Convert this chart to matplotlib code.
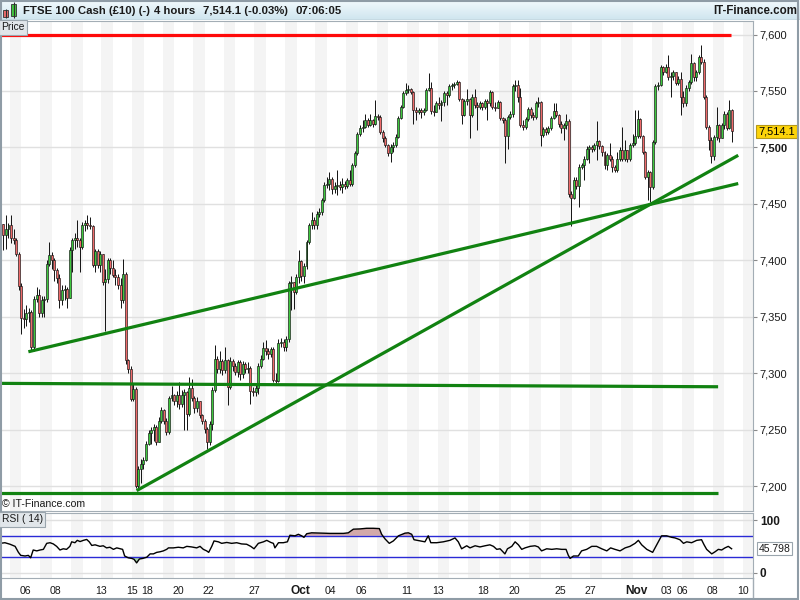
import numpy as np
import pandas as pd
import matplotlib
matplotlib.use("Agg")
import matplotlib.pyplot as plt
import matplotlib.transforms as mtrans
from matplotlib.patches import Rectangle
from matplotlib.colors import LinearSegmentedColormap

plt.rcParams['font.family'] = ['Liberation Sans', 'DejaVu Sans']

# ---------------- data ----------------
title_parts = ["FTSE 100 Cash (£10) (-)", "4 hours", "7,514.1 (-0.03%)", "07:06:05"]
brand = "IT-Finance.com"
first_open = 7432
first_day = "2017-09-04"      # first bar is the 12:00 bar (slot 3) of this day
last_day = "2017-11-10"
first_slot = 3
bars_per_day = 6

closes = [
    7422, 7428, 7431, 7420, 7418, 7406, 7377, 7349, 7348, 7353,
    7354, 7323, 7366, 7369, 7353, 7365, 7366, 7397, 7405, 7400,
    7391, 7384, 7365, 7374, 7375, 7367, 7409, 7418, 7420, 7418,
    7412, 7431, 7433, 7431, 7430, 7396, 7408, 7396, 7406, 7381,
    7383, 7400, 7393, 7387, 7385, 7378, 7365, 7388, 7312, 7304,
    7277, 7286, 7200, 7215, 7220, 7223, 7237, 7247, 7250, 7252,
    7239, 7258, 7267, 7258, 7248, 7278, 7281, 7275, 7281, 7273,
    7281, 7283, 7264, 7287, 7278, 7269, 7275, 7263, 7258, 7251,
    7239, 7255, 7285, 7313, 7304, 7311, 7303, 7312, 7288, 7311,
    7306, 7301, 7310, 7299, 7308, 7304, 7305, 7284, 7283, 7287,
    7306, 7313, 7322, 7320, 7317, 7321, 7294, 7293, 7327, 7328,
    7323, 7330, 7380, 7381, 7372, 7385, 7399, 7386, 7395, 7416,
    7431, 7436, 7431, 7441, 7443, 7453, 7467, 7468, 7472, 7463,
    7466, 7467, 7465, 7468, 7466, 7471, 7468, 7484, 7495, 7512,
    7517, 7518, 7524, 7520, 7524, 7521, 7528, 7527, 7514, 7508,
    7502, 7495, 7500, 7502, 7509, 7526, 7536, 7548, 7551, 7552,
    7549, 7533, 7531, 7533, 7531, 7533, 7551, 7553, 7532, 7531,
    7539, 7538, 7540, 7548, 7546, 7554, 7555, 7556, 7558, 7543,
    7529, 7541, 7543, 7529, 7545, 7538, 7536, 7539, 7536, 7541,
    7539, 7549, 7536, 7535, 7540, 7526, 7524, 7510, 7527, 7530,
    7554, 7555, 7545, 7520, 7518, 7525, 7534, 7529, 7527, 7539,
    7540, 7511, 7516, 7514, 7517, 7526, 7532, 7529, 7521, 7517,
    7520, 7523, 7459, 7455, 7471, 7466, 7483, 7484, 7490, 7499,
    7500, 7499, 7502, 7506, 7501, 7496, 7484, 7493, 7490, 7483,
    7480, 7490, 7498, 7490, 7498, 7490, 7502, 7504, 7510, 7525,
    7510, 7496, 7474, 7478, 7465, 7505, 7554, 7555, 7571, 7567,
    7571, 7562, 7563, 7567, 7557, 7561, 7545, 7539, 7553, 7558,
    7575, 7562, 7567, 7580, 7576, 7545, 7518, 7507, 7492, 7509,
    7520, 7508, 7520, 7530, 7517, 7533, 7514.1,
]

highs = [
    7432, 7440, 7433, 7440, 7428, 7420, 7407, 7380, 7357, 7360,
    7358, 7356, 7368, 7376, 7375, 7368, 7368, 7400, 7416, 7407,
    7402, 7393, 7388, 7378, 7378, 7376, 7412, 7420, 7424, 7436,
    7420, 7434, 7436, 7440, 7438, 7431, 7410, 7410, 7408, 7406,
    7392, 7402, 7402, 7400, 7392, 7388, 7384, 7401, 7390, 7313,
    7306, 7290, 7288, 7218, 7224, 7226, 7240, 7250, 7252, 7255,
    7254, 7261, 7270, 7268, 7260, 7280, 7289, 7282, 7284, 7292,
    7285, 7286, 7284, 7297, 7295, 7280, 7279, 7275, 7264, 7259,
    7252, 7258, 7288, 7325, 7315, 7320, 7313, 7323, 7313, 7314,
    7313, 7309, 7312, 7312, 7311, 7310, 7310, 7306, 7288, 7290,
    7309, 7316, 7328, 7329, 7322, 7323, 7323, 7300, 7330, 7331,
    7330, 7333, 7382, 7386, 7381, 7388, 7409, 7400, 7398, 7418,
    7433, 7443, 7438, 7444, 7446, 7455, 7469, 7474, 7478, 7474,
    7469, 7480, 7470, 7473, 7470, 7473, 7480, 7486, 7497, 7514,
    7520, 7524, 7530, 7526, 7530, 7525, 7542, 7530, 7529, 7515,
    7510, 7503, 7503, 7505, 7512, 7528, 7538, 7550, 7557, 7555,
    7553, 7550, 7536, 7535, 7535, 7535, 7553, 7566, 7558, 7538,
    7541, 7545, 7542, 7550, 7550, 7556, 7557, 7558, 7560, 7559,
    7544, 7543, 7552, 7544, 7547, 7552, 7540, 7541, 7540, 7543,
    7543, 7551, 7550, 7540, 7542, 7541, 7527, 7526, 7529, 7532,
    7556, 7560, 7560, 7553, 7524, 7527, 7536, 7536, 7531, 7541,
    7545, 7541, 7518, 7518, 7519, 7528, 7539, 7539, 7530, 7523,
    7522, 7530, 7525, 7461, 7474, 7474, 7485, 7486, 7492, 7501,
    7502, 7502, 7504, 7523, 7507, 7502, 7497, 7495, 7504, 7492,
    7484, 7496, 7500, 7518, 7507, 7497, 7504, 7512, 7533, 7533,
    7526, 7511, 7497, 7480, 7479, 7507, 7556, 7558, 7573, 7572,
    7574, 7582, 7567, 7569, 7567, 7563, 7567, 7550, 7555, 7560,
    7583, 7576, 7569, 7582, 7591, 7578, 7546, 7520, 7509, 7511,
    7536, 7521, 7522, 7532, 7531, 7542, 7534,
]

lows = [
    7409, 7410, 7420, 7415, 7414, 7404, 7374, 7335, 7340, 7342,
    7345, 7320, 7320, 7363, 7350, 7350, 7350, 7363, 7395, 7392,
    7382, 7380, 7358, 7360, 7365, 7358, 7388, 7390, 7410, 7412,
    7390, 7410, 7426, 7428, 7428, 7394, 7390, 7393, 7390, 7378,
    7337, 7380, 7388, 7385, 7378, 7375, 7358, 7362, 7308, 7300,
    7275, 7275, 7198, 7197, 7203, 7215, 7222, 7236, 7237, 7240,
    7236, 7239, 7256, 7255, 7245, 7246, 7275, 7272, 7270, 7268,
    7270, 7250, 7250, 7262, 7275, 7265, 7266, 7260, 7255, 7247,
    7233, 7236, 7250, 7283, 7300, 7300, 7298, 7300, 7272, 7286,
    7302, 7298, 7297, 7294, 7296, 7300, 7300, 7273, 7280, 7280,
    7282, 7305, 7312, 7316, 7313, 7314, 7292, 7290, 7292, 7323,
    7320, 7320, 7328, 7356, 7357, 7370, 7380, 7382, 7380, 7392,
    7414, 7428, 7428, 7428, 7438, 7440, 7452, 7464, 7462, 7459,
    7460, 7458, 7462, 7460, 7463, 7464, 7466, 7466, 7483, 7493,
    7510, 7514, 7517, 7518, 7519, 7518, 7520, 7524, 7512, 7505,
    7500, 7492, 7487, 7496, 7500, 7508, 7525, 7535, 7546, 7548,
    7547, 7521, 7524, 7530, 7526, 7529, 7532, 7550, 7530, 7528,
    7532, 7534, 7523, 7537, 7538, 7545, 7551, 7553, 7555, 7541,
    7521, 7528, 7538, 7508, 7527, 7535, 7515, 7534, 7533, 7534,
    7524, 7537, 7534, 7532, 7535, 7524, 7522, 7486, 7499, 7525,
    7527, 7550, 7540, 7518, 7515, 7516, 7523, 7526, 7524, 7525,
    7536, 7501, 7509, 7511, 7512, 7515, 7525, 7527, 7518, 7513,
    7507, 7516, 7456, 7430, 7454, 7463, 7447, 7481, 7471, 7489,
    7486, 7496, 7497, 7489, 7499, 7492, 7481, 7480, 7488, 7478,
    7478, 7478, 7488, 7488, 7488, 7487, 7488, 7500, 7502, 7508,
    7508, 7494, 7472, 7453, 7452, 7463, 7503, 7551, 7554, 7564,
    7566, 7560, 7545, 7560, 7555, 7555, 7529, 7536, 7537, 7550,
    7556, 7559, 7559, 7565, 7574, 7543, 7516, 7498, 7486, 7489,
    7507, 7505, 7514, 7516, 7515, 7516, 7505,
]

# RSI(14): bar position and value
rsi_pos = [
    -1.3, 0.6, 2.6, 4.6, 5.9, 6.8, 8.5, 9.8, 10.7, 11.7, 13.1, 14.4, 15.7, 17.0, 18.3,
    19.6, 20.9, 22.2, 23.5, 24.8, 26.1, 26.8, 28.1, 29.0, 30.1, 31.4, 32.7, 33.7, 34.7,
    36.0, 37.9, 39.2, 40.5, 41.8, 43.2, 44.5, 45.8, 46.8, 47.6, 49.0, 50.4, 51.3, 52.3,
    53.4, 54.7, 56.3, 57.6, 58.9, 60.2, 61.5, 62.8, 64.1, 64.8, 66.7, 68.7, 70.6, 72.0,
    73.9, 75.9, 77.2, 78.5, 79.8, 80.6, 81.8, 82.7, 84.4, 85.7, 87.7, 89.6, 91.6, 93.5,
    95.5, 97.1, 98.4, 100.1, 102.1, 103.4, 105.0, 106.0, 106.6, 108.0, 109.9, 111.5,
    112.5, 114.5, 115.8, 117.1, 118.0, 119.1, 121.0, 124.3, 128.2, 130.8, 133.5, 135.4,
    137.4, 140.0, 142.6, 145.2, 147.6, 148.5, 149.8, 151.5, 153.1, 155.1,
    157.7, 159.0, 160.3, 161.2, 163.6, 165.5, 166.8, 167.8, 170.1, 172.7, 175.3, 177.3,
    178.6, 179.9, 181.9, 183.2, 185.2, 187.1, 189.1, 191.0, 192.4, 193.7, 195.0, 196.9,
    197.9, 199.6, 200.9, 202.2, 203.5, 204.8, 206.8, 208.7, 210.0, 211.3, 213.3, 215.3,
    217.2, 219.2, 220.9, 221.8, 222.5, 223.8, 225.7, 227.0, 229.0, 231.0, 232.9, 234.9,
    236.9, 238.4, 240.1, 242.1, 244.1, 246.0, 248.0, 249.3, 250.6, 252.6, 254.9, 256.5,
    258.4, 260.4, 262.4, 263.7, 265.6, 267.0, 268.3, 270.2, 272.2, 274.1, 275.1, 276.1,
    278.1, 279.4, 280.7, 282.0, 283.3, 284.6, 285.9,
]
rsi_val = [
    55.7, 56.9, 54.0, 50.0, 38.6, 32.9, 31.7, 32.9, 28.3, 43.1, 41.4, 43.1, 44.3, 55.7, 56.9,
    54.6, 50.0, 43.1, 45.4, 44.3, 50.0, 58.6, 56.9, 61.4, 59.1, 61.4, 63.1, 58.6, 51.7,
    52.9, 50.0, 51.1, 47.1, 48.3, 44.3, 47.1, 45.4, 44.3, 31.7, 28.3, 27.1, 25.4, 18.6,
    26.0, 27.1, 29.4, 35.7, 35.7, 38.6, 39.7, 41.4, 44.3, 47.1, 47.1, 48.3, 47.1, 50.0,
    48.9, 47.1, 50.0, 44.3, 41.4, 38.6, 50.0, 60.3, 58.6, 55.7, 57.4, 55.7, 56.9, 54.6,
    54.0, 50.0, 45.4, 55.7, 58.6, 61.4, 57.4, 55.7, 47.1, 56.9, 56.9, 58.6,
    71.1, 70.0, 72.9, 70.0, 67.1, 74.0, 75.7, 75.1, 74.6, 74.6, 74.6, 75.7,
    82.6, 83.1, 84.3, 84.3, 83.7, 72.9, 64.3, 55.7, 60.3, 70.0,
    75.1, 75.7, 72.9, 62.6, 60.3, 58.6, 70.0, 56.9, 56.9, 58.6, 61.4, 66.0,
    58.6, 45.4, 51.1, 47.1, 51.1, 48.9, 51.1, 52.9, 50.0, 44.3, 45.4, 35.7,
    45.4, 50.0, 58.6, 52.9, 44.3, 47.1, 50.0, 51.1, 48.9, 41.4, 45.4, 44.3,
    45.4, 44.3, 44.3, 32.9, 27.1, 31.7, 31.7, 41.4, 44.3, 50.0, 50.0, 45.4,
    41.4, 47.1, 44.3, 41.4, 47.1, 50.0, 55.7, 61.4, 52.9, 44.3, 38.6, 52.9,
    70.0, 70.0, 67.1, 66.0, 62.6, 55.7, 58.6, 56.9, 61.4, 62.6, 52.9, 44.3,
    35.7, 39.7, 44.3, 43.1, 47.1, 50.0, 45.4,
]

price_ticks = [7200, 7250, 7300, 7350, 7400, 7450, 7500, 7550, 7600]
bold_price_tick = 7500
last_price_label = "7,514.1"
rsi_last_label = "45.798"
rsi_last_value = 45.798
rsi_levels = [30, 70]

tick_dates = ["2017-09-06", "2017-09-08", "2017-09-13", "2017-09-15", "2017-09-18",
              "2017-09-20", "2017-09-22", "2017-09-27", "2017-10-02", "2017-10-04",
              "2017-10-06", "2017-10-11", "2017-10-13", "2017-10-18", "2017-10-20",
              "2017-10-25", "2017-10-27", "2017-11-01", "2017-11-03", "2017-11-06",
              "2017-11-08", "2017-11-10"]
tick_labels = ["06", "08", "13", "15", "18", "20", "22", "27", "Oct", "04", "06", "11",
               "13", "18", "20", "25", "27", "Nov", "03", "06", "08", "10"]

# drawn lines: (bar index, price) end points
red_line = ((-1.5, 7600), (285.7, 7600))
green_lines = [
    ((9.8, 7319), (288.5, 7468)),
    ((52.3, 7196), (288.5, 7493)),
    ((-1.5, 7291), (280.6, 7288)),
    ((-1.5, 7194), (280.6, 7194)),
]

# ---------------- figure ----------------
W, H = 800, 600
fig = plt.figure(figsize=(8, 6), dpi=100)
fig.patch.set_facecolor('white')


def add_ax(x0, y0, x1, y1):
    return fig.add_axes([x0 / W, 1 - y1 / H, (x1 - x0) / W, (y1 - y0) / H])


def ftext(x, y, s, **kw):
    return fig.text(x / W, 1 - y / H, s, **kw)


n = len(closes)
xs = np.arange(n)
c = np.array(closes, float)
o = np.r_[first_open, c[:-1]]
hi = np.maximum(np.array(highs, float), np.maximum(o, c))
lo = np.minimum(np.array(lows, float), np.minimum(o, c))

bdays = pd.bdate_range(first_day, last_day)
day_start = {d.strftime("%Y-%m-%d"): -first_slot + k * bars_per_day for k, d in enumerate(bdays)}

XL = (-1.335, 294.3)
spine_c = '#a3adb5'

# header
hax = add_ax(0, 0, 800, 20)
cm = LinearSegmentedColormap.from_list('h', ['#f2fafd', '#cfe5ef'])
hax.imshow(np.linspace(0, 1, 32)[:, None], aspect='auto', cmap=cm, extent=[0, 800, 20, 0])
hax.set_xlim(0, 800)
hax.set_ylim(20, 0)
hax.axis('off')
hax.vlines([5.8], 8.5, 18, color='#303030', lw=0.8)
hax.add_patch(Rectangle((3.3, 10.3), 5, 6.4, fc='#e96a6a', ec='#303030', lw=0.6))
hax.vlines([13.5], 1.7, 18, color='#303030', lw=0.8)
hax.add_patch(Rectangle((11, 4), 5, 12, fc='#3fc43f', ec='#303030', lw=0.6))
hax.axhline(19.6, color=spine_c, lw=1)
for s, xp in zip(title_parts, [23, 154, 203, 295]):
    hax.text(xp, 11.5, s, fontsize=8.2, fontweight='bold', color='#1a1a1a', va='center', ha='left')
hax.text(797, 11.2, brand, fontsize=8.3, fontweight='bold', color='#1a1a1a', va='center', ha='right')

# price panel
ax = add_ax(0, 21, 753, 511)
ax.set_xlim(*XL)
ax.set_ylim(7177.95, 7611.96)
ax_r = add_ax(0, 513, 753, 578)
ax_r.set_xlim(*XL)
ax_r.set_ylim(-10.06, 113.3)

for k, d in enumerate(bdays):
    if k % 2 == 1:
        s0 = day_start[d.strftime("%Y-%m-%d")] - 0.5
        for a in (ax, ax_r):
            a.axvspan(s0, s0 + 4.6, color='#f4f4f4', lw=0, zorder=0)

ax.set_yticks(price_ticks)
ax.grid(axis='y', color='#e0e0e0', lw=1, zorder=0.5)
ax.set_xticks([])
ax.yaxis.tick_right()
ax.tick_params(axis='y', length=3, width=0.8, color='#8a8a8a', pad=1.5, labelsize=8, labelcolor='#1a1a1a')
ax.set_yticklabels([f"{v:,}" for v in price_ticks])
for t, v in zip(ax.get_yticklabels(), price_ticks):
    if v == bold_price_tick:
        t.set_fontweight('bold')
for sp in ax.spines.values():
    sp.set_color(spine_c)

# candles
up = c >= o
ax.vlines(xs, lo, hi, color='#111111', lw=0.7, zorder=2)
bh = np.maximum(np.abs(c - o), 0.6)
ax.bar(xs, bh, bottom=np.minimum(o, c), width=0.78,
       color=np.where(up, '#3ec83e', '#ef6a6a'), edgecolor='#111111', linewidth=0.45, zorder=3)

# drawn lines
(a0, a1) = red_line
ax.plot([a0[0], a1[0]], [a0[1], a1[1]], color='#ff0a0a', lw=2.3, zorder=4, solid_capstyle='butt')
for (p0, p1) in green_lines:
    ax.plot([p0[0], p1[0]], [p0[1], p1[1]], color='#118211', lw=2.3, zorder=4, solid_capstyle='butt')

# current price box
ax.text(1.007, c[-1], last_price_label, transform=mtrans.blended_transform_factory(ax.transAxes, ax.transData),
        fontsize=7.9, va='center', ha='left', color='black',
        bbox=dict(boxstyle='square,pad=0.18', fc='#fdd40a', ec='#b69a1a', lw=0.8), clip_on=False, zorder=6)

# labels inside panel
ftext(1.5, 27.5, "Price", fontsize=7.4, va='center', ha='left', color='#1a1a1a',
      bbox=dict(boxstyle='square,pad=0.2', fc='#e1e6ea', ec='#9aa5ad', lw=0.8))
ftext(1.5, 504, "© IT-Finance.com", fontsize=7.6, va='center', ha='left', color='#1a1a1a')

# RSI
rx = np.array(rsi_pos)
rv = np.array(rsi_val)
ax_r.set_yticks([0, 50, 100])
ax_r.grid(axis='y', color='#e0e0e0', lw=1, zorder=0.5)
for lv in rsi_levels:
    ax_r.axhline(lv, color='#2a2ad6', lw=1, zorder=2)
ax_r.fill_between(rx, rv, 70, where=rv > 70, interpolate=True, color='#d3a9a9', lw=0, zorder=1.5)
ax_r.fill_between(rx, rv, 30, where=rv < 30, interpolate=True, color='#a9d3a9', lw=0, zorder=1.5)
ax_r.plot(rx, rv, color='black', lw=1.0, zorder=3)
ax_r.set_xticks([])
ax_r.yaxis.tick_right()
ax_r.set_yticks([0, 100])
ax_r.set_yticklabels(['0', '100'])
ax_r.tick_params(axis='y', length=3, width=0.8, color='#8a8a8a', pad=2, labelsize=8.5, labelcolor='#1a1a1a')
for t in ax_r.get_yticklabels():
    t.set_fontweight('bold')
for sp in ax_r.spines.values():
    sp.set_color(spine_c)
ax_r.text(1.007, rsi_last_value, rsi_last_label,
          transform=mtrans.blended_transform_factory(ax_r.transAxes, ax_r.transData),
          fontsize=7.5, va='center', ha='left', color='#1a1a1a',
          bbox=dict(boxstyle='square,pad=0.15', fc='white', ec='#9aa5ad', lw=0.8), clip_on=False, zorder=6)
ftext(1.5, 519.5, "RSI ( 14)", fontsize=7.4, va='center', ha='left', color='#1a1a1a',
      bbox=dict(boxstyle='square,pad=0.2', fc='#e1e6ea', ec='#9aa5ad', lw=0.8))

# date labels
bt = mtrans.blended_transform_factory(ax_r.transData, ax_r.transAxes)
for dstr, lab in zip(tick_dates, tick_labels):
    xv = day_start[dstr] - 0.5
    isb = lab.isalpha()
    ax_r.text(xv, -0.2, lab, transform=bt, ha='center', va='center',
              fontsize=8.6 if isb else 7.6, fontweight='bold' if isb else 'normal',
              color='#1a1a1a', clip_on=False)

# outer frame
fig.patches.append(Rectangle((0.001, 0.002), 0.997, 0.996, transform=fig.transFigure,
                             fill=False, edgecolor='#8f9ca6', lw=1.5))
fig.lines.append(plt.Line2D([753 / W, 753 / W], [0.005, 1 - 578 / H], transform=fig.transFigure,
                            color=spine_c, lw=1))

fig.savefig("out.png", dpi=100)
